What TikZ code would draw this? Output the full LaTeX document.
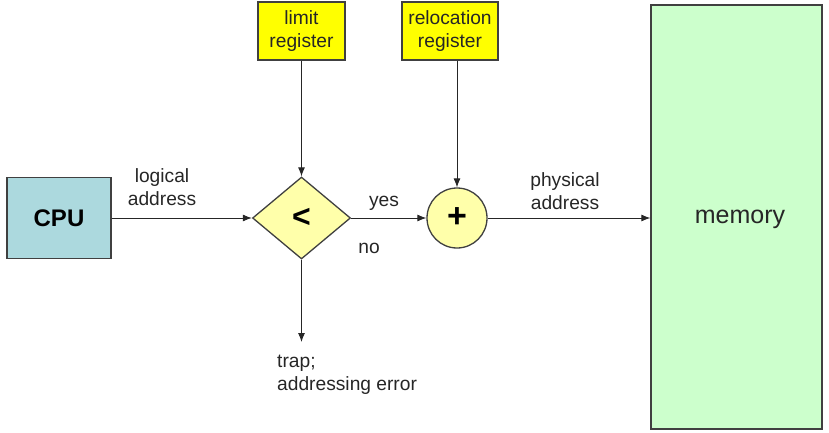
\documentclass[tikz,border=0pt]{standalone}
\usepackage{fontspec}
\setmainfont{Liberation Sans}
\usetikzlibrary{shapes.geometric,arrows.meta}
\definecolor{cpublue}{HTML}{ACD9DE}
\definecolor{paleyel}{HTML}{FFFFAA}
\definecolor{regyel}{HTML}{FFFF00}
\definecolor{memgreen}{HTML}{CCFFCC}
\definecolor{edge}{HTML}{404040}
\tikzset{
  box/.style={draw=edge, line width=1.3pt, inner sep=0pt},
  arr/.style={draw=black!85, line width=0.9pt, -{Latex[length=9pt,width=7pt]}},
  lbl/.style={font=\fontsize{19.2}{22.5}\selectfont, align=center, inner sep=0pt, text=black!85},
}
\begin{document}
\begin{tikzpicture}[x=1pt,y=-1pt]
\useasboundingbox (0,0) rectangle (829,433);
\node[box, fill=cpublue, minimum width=104pt, minimum height=81pt, font=\bfseries\fontsize{24}{28}\selectfont] (cpu) at (59,218) {CPU};
\node[box, diamond, fill=paleyel, minimum width=98pt, minimum height=82pt, font=\bfseries\fontsize{32}{34}\selectfont] (cmp) at (301.5,218) {<};
\node[box, fill=regyel, minimum width=87pt, minimum height=58pt, lbl] (limit) at (301.5,31) {limit\\register};
\node[box, fill=regyel, minimum width=96pt, minimum height=58pt, lbl] (reloc) at (450,31) {relocation\\register};
\node[box, circle, fill=paleyel, minimum size=60pt, font=\bfseries\fontsize{34}{36}\selectfont] (plus) at (457,218) {+};
\node[box, fill=memgreen, minimum width=171pt, minimum height=424pt] (mem) at (736.5,217) {};
\node[lbl, font=\fontsize{25}{28}\selectfont] (memtxt) at (740,219) {memory};
\coordinate (trapend) at (301.5,342);
\node[lbl, align=left, anchor=west] (trap) at (277,375) {trap;\\addressing error};
\node[lbl] (logl) at (162,187) {logical\\address};
\node[lbl] (yes) at (384,203) {yes};
\node[lbl] (no) at (369,248) {no};
\node[lbl] (phys) at (565,191) {physical\\address};
\draw[arr] (cpu.east) -- (cmp.west);
\draw[arr] (limit.south) -- (cmp.north);
\draw[arr] (cmp.east) -- (plus.west);
\draw[arr] (plus.north |- reloc.south) -- (plus.north);
\draw[arr] (plus.east) -- (mem.west |- plus.east);
\draw[arr] (cmp.south) -- (trapend);
\end{tikzpicture}
\end{document}
